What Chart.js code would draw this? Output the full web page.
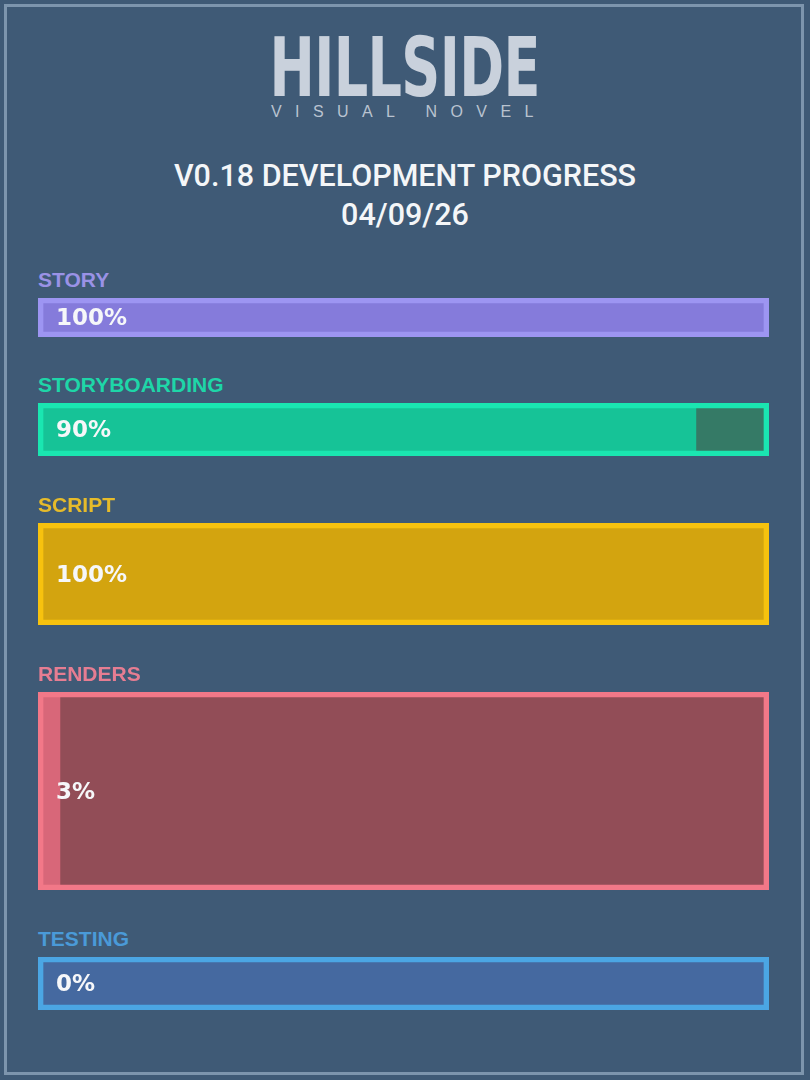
<!DOCTYPE html>
<html>
<head>
<meta charset="utf-8">
<script src="https://cdn.jsdelivr.net/npm/chart.js@4.4.1/dist/chart.umd.min.js"></script>
<style>
  html, body { margin: 0; padding: 0; }
  body {
    width: 810px; height: 1080px; background: #3f5a76;
    position: relative; overflow: hidden;
  }
  .frame {
    position: absolute; left: 4px; top: 4px; width: 794px; height: 1065px;
    border: 3px solid #7d95ad;
  }
  .logo {
    position: absolute; left: 0; top: 23px; width: 810px; text-align: center;
    font-family: "DejaVu Sans", sans-serif;
    font-weight: bold; font-size: 82px; line-height: 90px; color: #c9d1dc;
  }
  .logo span { display: inline-block; transform-origin: center; letter-spacing: -1px; }
  .sub {
    position: absolute; left: 271px; top: 102px;
    font-family: "Liberation Sans", sans-serif; font-size: 16px; line-height: 20px;
    letter-spacing: 13.4px; color: #b9c3d0;
  }
  .title {
    position: absolute; left: 0; top: 156px; width: 810px; text-align: center;
    font-family: Roboto, sans-serif; font-weight: 500; font-size: 30.5px; line-height: 39px;
    color: #f4f6f8;
  }
  .label {
    position: absolute; left: 38px;
    font-family: "Liberation Sans", sans-serif; font-weight: bold; font-size: 21px; line-height: 24px;
  }
  .row { position: absolute; left: 38px; width: 731px; }
  .row canvas { position: absolute; left: 0; top: 0; }
  .pct {
    position: absolute; left: 18px; top: 0;
    font-family: "DejaVu Sans", sans-serif; font-weight: bold; font-size: 23px;
    color: #f6f7f9;
  }
</style>
</head>
<body>
<div class="frame"></div>
<div class="logo"><span id="logo">HILLSIDE</span></div>
<div class="sub">VISUAL NOVEL</div>
<div class="title">V0.18 DEVELOPMENT PROGRESS<br>04/09/26</div>
<div id="bars"></div>
<script>
const categories = ['STORY', 'STORYBOARDING', 'SCRIPT', 'RENDERS', 'TESTING'];
const progress = [100, 90, 100, 3, 0];

// layout and colours for each row
const barTops = [298, 403, 523, 692, 957];
const barHeights = [39, 53, 102, 198, 53];
const labelColors = ['#9a92e6', '#1ed6a8', '#e6bb2a', '#e67d92', '#4a9ad8'];
const borderColors = ['#9d95f2', '#1ae6b1', '#f7c20e', '#f27888', '#4ba6e4'];
const doneColors = ['#857bdb', '#16c397', '#d3a40f', '#d86779', '#4ba6e4'];
const restColors = ['#857bdb', '#357a66', '#d3a40f', '#924d57', '#4569a0'];

// squeeze the logo into its width
const logo = document.getElementById('logo');
logo.style.transform = 'scaleX(' + (270 / logo.offsetWidth) + ')';

const bars = document.getElementById('bars');

for (let i = 0; i < categories.length; i++) {
    const label = document.createElement('div');
    label.className = 'label';
    label.style.top = (barTops[i] - 30) + 'px';
    label.style.color = labelColors[i];
    label.textContent = categories[i];
    bars.appendChild(label);

    const row = document.createElement('div');
    row.className = 'row';
    row.style.top = barTops[i] + 'px';
    row.style.height = barHeights[i] + 'px';

    const canvas = document.createElement('canvas');
    canvas.width = 731;
    canvas.height = barHeights[i];
    row.appendChild(canvas);

    const pct = document.createElement('div');
    pct.className = 'pct';
    pct.style.lineHeight = barHeights[i] + 'px';
    pct.textContent = progress[i] + '%';
    row.appendChild(pct);
    bars.appendChild(row);

    new Chart(canvas, {
        type: 'bar',
        data: {
            labels: [categories[i]],
            datasets: [
                {
                    label: 'done',
                    data: [[0, progress[i]]],
                    backgroundColor: doneColors[i],
                    grouped: false,
                    order: 1
                },
                {
                    label: 'remaining',
                    data: [[progress[i], 100]],
                    backgroundColor: restColors[i],
                    grouped: false,
                    order: 1
                },
                {
                    label: 'frame',
                    data: [[0, 100]],
                    backgroundColor: 'rgba(0,0,0,0)',
                    borderColor: borderColors[i],
                    borderWidth: 5,
                    borderSkipped: false,
                    grouped: false,
                    order: 0
                }
            ]
        },
        options: {
            indexAxis: 'y',
            responsive: false,
            animation: false,
            barPercentage: 1,
            categoryPercentage: 1,
            layout: { padding: 0 },
            scales: {
                x: { display: false, min: 0, max: 100 },
                y: { display: false }
            },
            plugins: {
                legend: { display: false },
                tooltip: { enabled: false }
            }
        }
    });
}
</script>
</body>
</html>
